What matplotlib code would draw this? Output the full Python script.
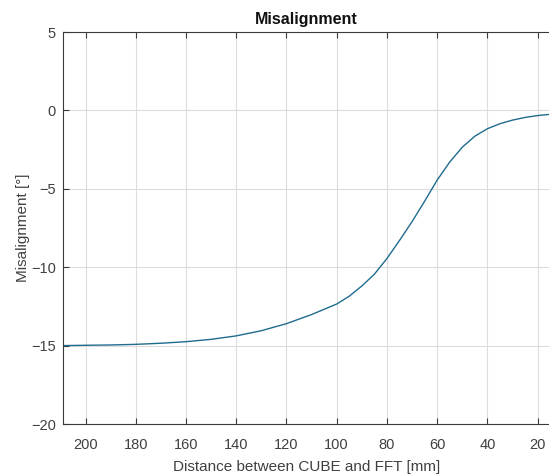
import matplotlib.pyplot as plt
import numpy as np

plt.rcParams['font.family'] = ['Liberation Sans', 'DejaVu Sans']

# odleglosc [mm] i odczytany kat [deg]
distance = [209, 200, 190, 180, 170, 160, 150, 140, 130, 120, 110, 100, 95, 90, 85,
            80, 75, 70, 65, 60, 55, 50, 45, 40, 35, 30, 25, 20, 15]
misalignment = [-15.0, -14.98, -14.96, -14.92, -14.85, -14.75, -14.6, -14.38, -14.05,
                -13.6, -13.02, -12.35, -11.85, -11.2, -10.45, -9.45, -8.3, -7.1, -5.8,
                -4.45, -3.3, -2.35, -1.65, -1.17, -0.85, -0.62, -0.45, -0.33, -0.25]

x_ticks = [200, 180, 160, 140, 120, 100, 80, 60, 40, 20]
y_ticks = [-20, -15, -10, -5, 0, 5]

fig = plt.figure(figsize=(5.49, 4.75), dpi=100)
ax = fig.add_axes([63 / 549, 1 - 424 / 475, 1.002 - 63 / 549, (424 - 32) / 475])

ax.plot(distance, misalignment, color='#1f6b8e', linewidth=1.0)

ax.set_xlim(209, 15)
ax.set_ylim(-20, 5)
ax.set_xticks(x_ticks)
ax.set_yticks(y_ticks)
ax.grid(True, color='#dcdcdc', linewidth=0.8)
ax.set_axisbelow(True)

ax.tick_params(direction='in', length=4, width=0.8, colors='#3a3a3a',
               labelcolor='#404040', labelsize=10.5, top=True, right=False)
ax.tick_params(axis='x', pad=10)
ax.tick_params(axis='y', pad=5)
for side in ['left', 'bottom', 'top']:
    ax.spines[side].set_color('#3a3a3a')
    ax.spines[side].set_linewidth(0.8)
ax.spines['right'].set_visible(False)

ax.set_title('Misalignment', fontsize=11.5, fontweight='bold', color='#111111', pad=6)
ax.set_xlabel('Distance between CUBE and FFT [mm]', fontsize=11, color='#404040', labelpad=6)
ax.set_ylabel('Misalignment [°]', fontsize=11, color='#404040', labelpad=1)

fig.savefig('out.png', dpi=100)
